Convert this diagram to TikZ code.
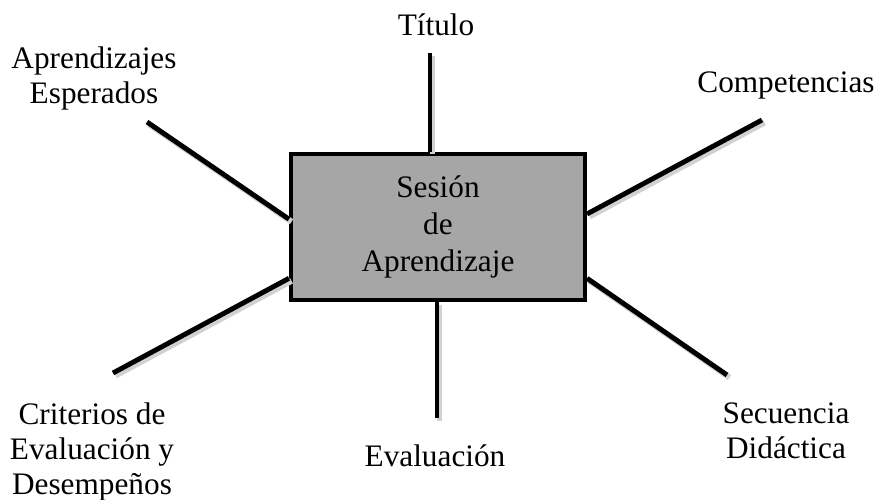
\documentclass[tikz,border=0pt]{standalone}
\usepackage{fontspec}
\setmainfont{Liberation Serif}
\definecolor{boxgray}{RGB}{166,166,166}
\begin{document}
\begin{tikzpicture}
        \tikzstyle{box} = [rectangle, minimum width=5.88cm, minimum height=2.92cm, align=center, draw=black, line width=2.3pt, fill=boxgray, font=\fontsize{17.8}{21.3}\selectfont]
        \tikzstyle{txt} = [align=center, inner sep=0pt, font=\fontsize{17.8}{19.9}\selectfont]
        \tikzstyle{spoke} = [line width=2.8pt, preaction={draw=black!18, line width=3.4pt, transform canvas={shift={(0.05,-0.05)}}}]

                \useasboundingbox (0,0) rectangle (17.6,-9.98);

                \node (s) [box] at (8.76,-4.54) {Sesión \\ de \\ Aprendizaje};

                \node (tit) [txt] at (8.72,-0.49) {Título};
                \node (ape) [txt] at (1.88,-1.56) {Aprendizajes \\ Esperados};
                \node (com) [txt] at (15.72,-1.70) {Competencias};
                \node (cri) [txt] at (1.84,-9.03) {Criterios de \\ Evaluación y \\ Desempeños};
                \node (eva) [txt] at (8.70,-9.11) {Evaluación};
                \node (sec) [txt] at (15.72,-8.62) {Secuencia \\ Didáctica};

                \coordinate (t1) at (8.60,-1.06);
                \coordinate (t2) at (8.74,-8.36);
                \coordinate (ul) at (2.94,-2.44);
                \coordinate (ll) at (2.26,-7.46);
                \coordinate (ur) at (15.24,-2.40);
                \coordinate (lr) at (14.54,-7.50);

                \draw[spoke] (t1) -- (t1 |- s.north);
                \draw[spoke] (t2) -- (t2 |- s.south);
                \draw[spoke] (ul) -- (s.177);
                \draw[spoke] (ll) -- (s.199);
                \draw[spoke] (ur) -- (s.5);
                \draw[spoke] (lr) -- (s.341);

    \end{tikzpicture}
\end{document}
